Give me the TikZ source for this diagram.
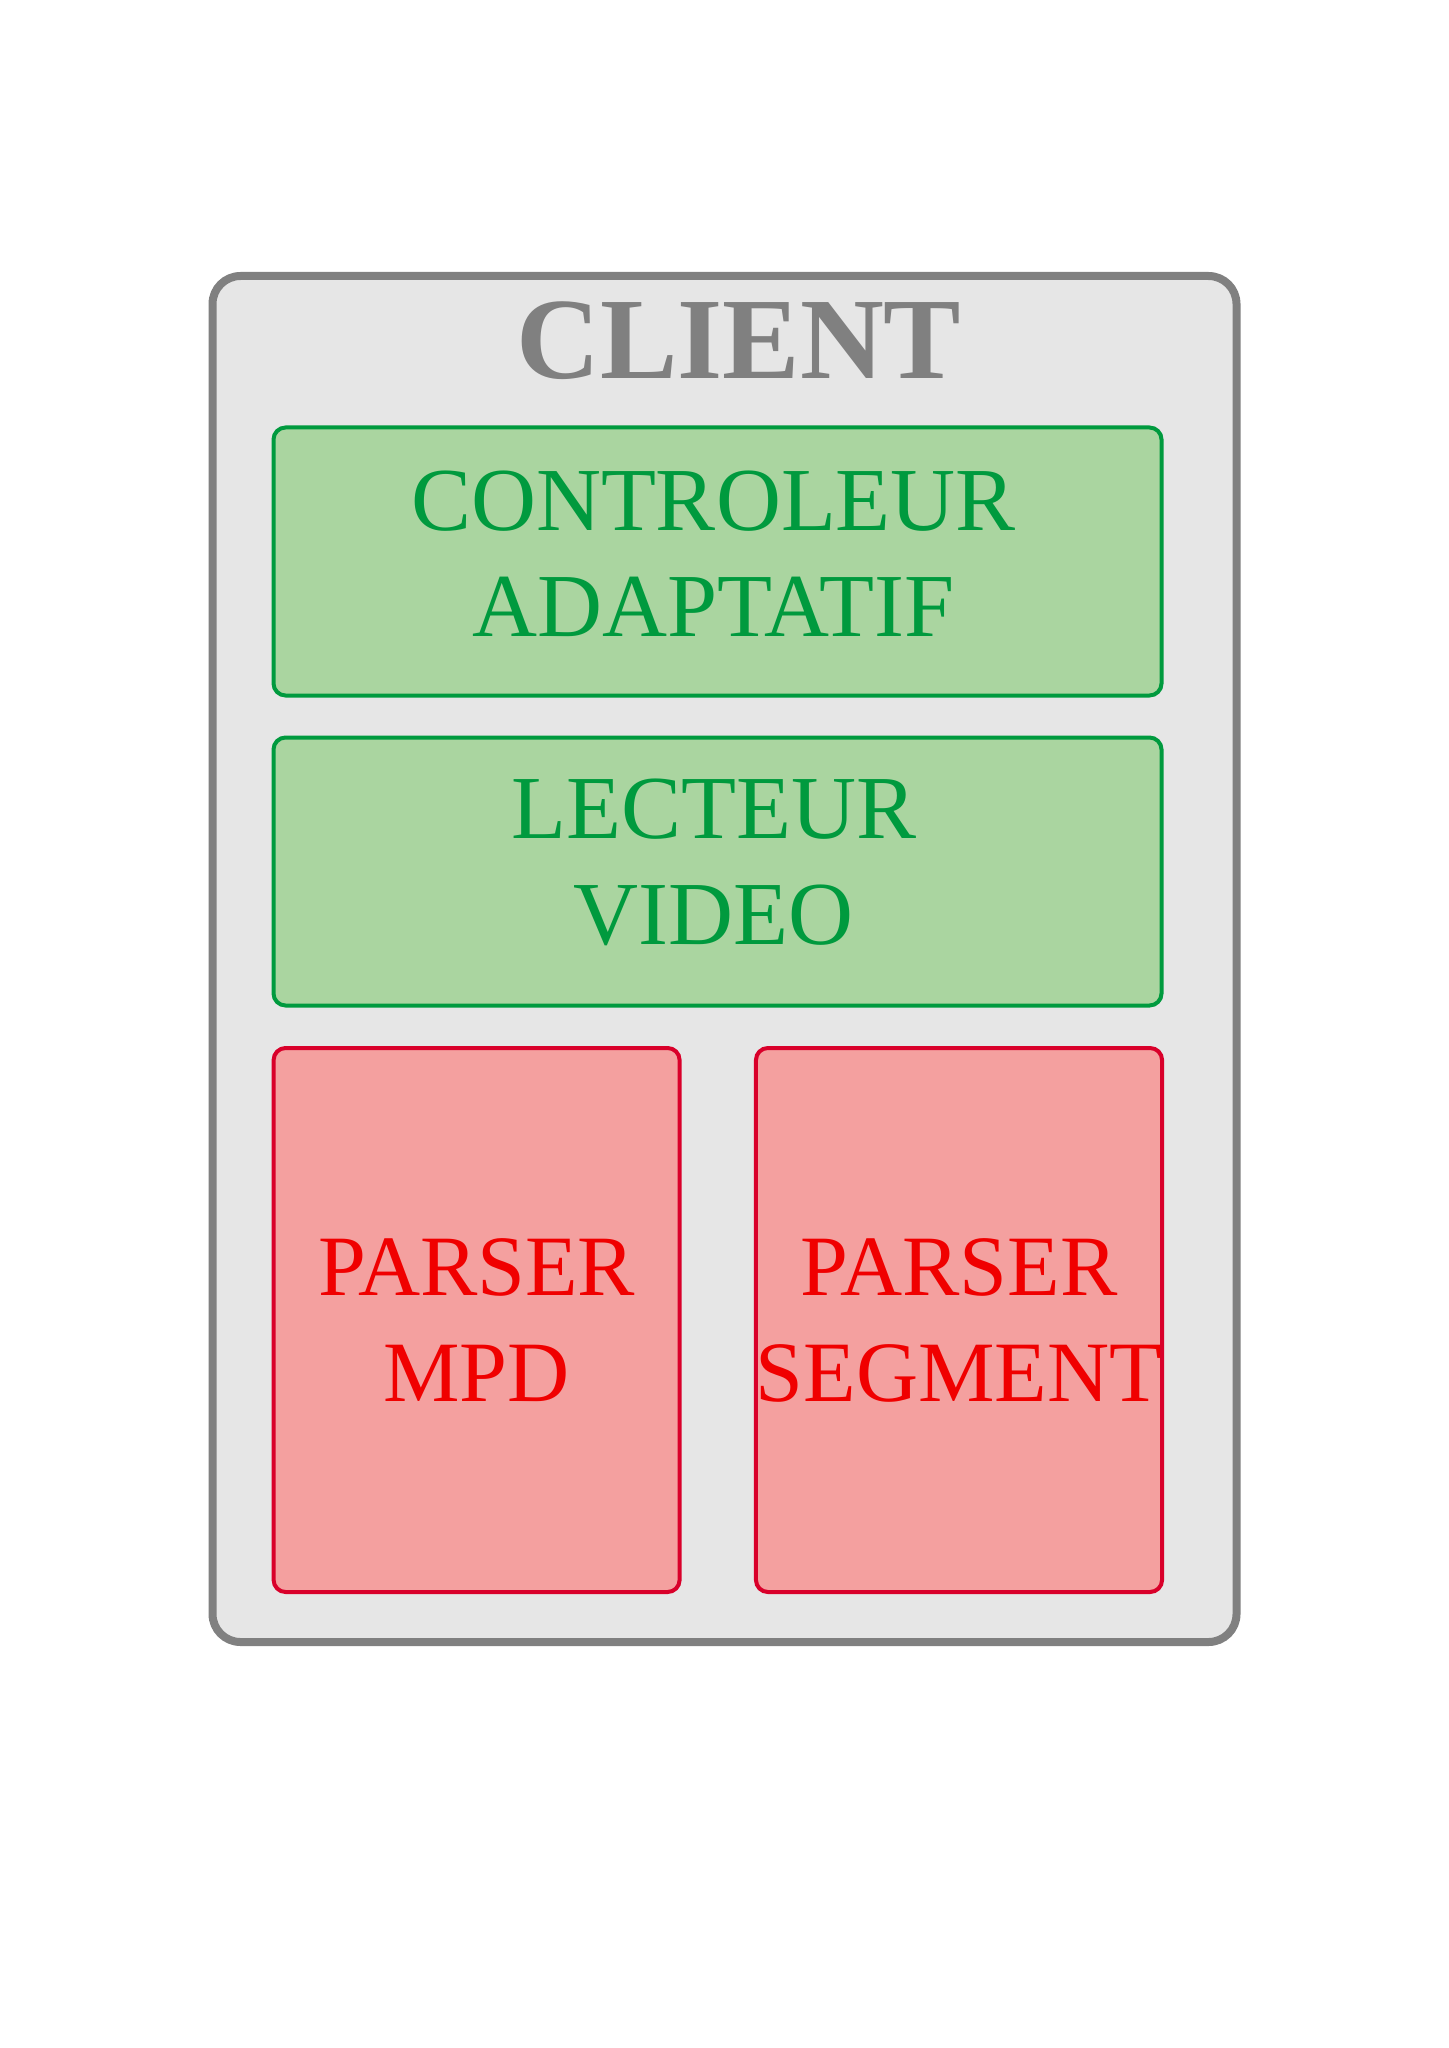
\documentclass[tikz,border=0pt]{standalone}
\usepackage{fontspec}
\setmainfont{Liberation Serif}
\usepackage{tikz}
\usetikzlibrary{positioning}
\usepackage{xcolor}

\definecolor{clientfill}{HTML}{E6E6E6}
\definecolor{clientdraw}{HTML}{808080}
\definecolor{modfill}{HTML}{AAD5A0}
\definecolor{moddraw}{HTML}{009A3E}
\definecolor{parsefill}{HTML}{F4A09F}
\definecolor{parsedraw}{HTML}{D9002A}
\definecolor{parsetext}{HTML}{F00000}

\tikzset{
  modbox/.style={draw=moddraw,fill=modfill,line width=2pt,rounded corners=6pt,
    minimum width=444pt,minimum height=134pt,inner sep=0pt},
  modtext/.style={align=center,inner sep=0pt,text=moddraw,font=\fontsize{45}{53}\selectfont},
  parsebox/.style={draw=parsedraw,fill=parsefill,line width=2pt,rounded corners=6pt,
    minimum width=203pt,minimum height=272pt,inner sep=0pt,align=center,
    text=parsetext,font=\fontsize{43}{53}\selectfont}
}

\begin{document}
\begin{tikzpicture}[x=0.5pt,y=-0.5pt]
  \useasboundingbox[fill=white] (0,0) rectangle (1448,2048);

  \node[draw=clientdraw,fill=clientfill,line width=4pt,rounded corners=14pt,
        minimum width=512pt,minimum height=683pt] (client) at (724.5,959) {};
  \node[anchor=base,text=clientdraw,font=\fontsize{58}{60}\selectfont\bfseries] (title) at (739,378.6) {CLIENT};

  \node[modbox] (ctrl) at (717.5,561.5) {};
  \node[modtext] (ctrllbl) at ([xshift=-2pt,yshift=4pt]ctrl.center) {CONTROLEUR\\ADAPTATIF};
  \node[modbox] (player) at (717.5,871.5) {};
  \node[modtext] (playerlbl) at ([xshift=-2pt,yshift=4.5pt]player.center) {LECTEUR\\VIDEO};

  \node[parsebox] (mpd) at (476.6,1320) {PARSER\\MPD};
  \node[parsebox] (seg) at (959,1320) {PARSER\\SEGMENT};
\end{tikzpicture}
\end{document}
